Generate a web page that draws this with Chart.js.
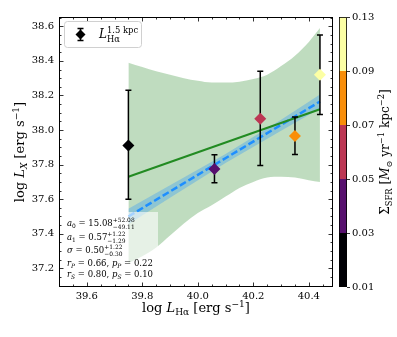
<!DOCTYPE html>
<html>
<head>
<meta charset="utf-8">
<script src="https://cdn.jsdelivr.net/npm/chart.js@4.4.0/dist/chart.umd.min.js"></script>
<style>
  html, body { margin: 0; padding: 0; background: #fff; }
  #wrap { position: relative; width: 397px; height: 337px; }
</style>
</head>
<body>
<div id="wrap"><canvas id="lxChart" width="397" height="337"></canvas></div>
<script>
// ticks
const xTicks = [39.6, 39.8, 40.0, 40.2, 40.4];
const yTicks = [37.2, 37.4, 37.6, 37.8, 38.0, 38.2, 38.4, 38.6];
const cbTicks = ['0.01', '0.03', '0.05', '0.07', '0.09', '0.13'];
const cbColors = ['#000004', '#57106e', '#bc3754', '#f98e09', '#fcffa4'];

// measured points (log L_Ha, log L_X) with asymmetric errors
const pointX = [39.75, 40.06, 40.225, 40.35, 40.44];
const pointY = [37.91, 37.775, 38.065, 37.965, 38.32];
const errLo = [37.60, 37.695, 37.795, 37.858, 38.09];
const errHi = [38.23, 37.857, 38.34, 38.075, 38.55];
const pointColors = ['#000004', '#57106e', '#bc3754', '#f98e09', '#fcffa4'];

// fits
const fitX = [39.75, 40.44];
const greenFitY = [37.73, 38.12];
const blueFitY = [37.50, 38.165];

// blue fit uncertainty band
const blueBandX = [39.75, 39.90, 40.10, 40.30, 40.44];
const blueBandHi = [37.545, 37.68, 37.862, 38.06, 38.205];
const blueBandLo = [37.455, 37.608, 37.81, 37.996, 38.125];

// green confidence region
const bandX = [39.75, 39.80, 39.85, 39.90, 39.95, 40.00, 40.05, 40.10, 40.15, 40.20, 40.25, 40.30, 40.35, 40.40, 40.44];
const bandHi = [38.39, 38.365, 38.34, 38.32, 38.30, 38.285, 38.275, 38.275, 38.28, 38.295, 38.32, 38.37, 38.43, 38.51, 38.59];
const bandLo = [37.23, 37.27, 37.32, 37.39, 37.46, 37.52, 37.565, 37.615, 37.665, 37.70, 37.725, 37.73, 37.725, 37.71, 37.70];

const SERIF = '"DejaVu Serif", serif';

function pts(xs, ys) {
    return xs.map((x, i) => ({ x: x, y: ys[i] }));
}

// small rich text helper (italic, sub/sup, stacked sup+sub)
function fontFor(r, size) {
    const s = (r.pos || r.stack) ? size * 0.7 : size;
    return (r.it ? 'italic ' : '') + s + 'px ' + SERIF;
}
function drawRich(ctx, runs, x, y, size, align) {
    ctx.save();
    ctx.textAlign = 'left';
    ctx.textBaseline = 'alphabetic';
    ctx.fillStyle = '#000';
    let w = 0;
    runs.forEach(r => {
        ctx.font = fontFor(r, size);
        if (r.stack) {
            r.w = Math.max(ctx.measureText(r.stack[0]).width, ctx.measureText(r.stack[1]).width);
        } else {
            r.w = ctx.measureText(r.t).width;
        }
        w += r.w;
    });
    let cx = align === 'center' ? x - w / 2 : x;
    runs.forEach(r => {
        ctx.font = fontFor(r, size);
        if (r.stack) {
            ctx.fillText(r.stack[0], cx, y - size * 0.42);
            ctx.fillText(r.stack[1], cx, y + size * 0.3);
        } else {
            const dy = r.pos === 'sub' ? size * 0.22 : (r.pos === 'sup' ? -size * 0.42 : 0);
            ctx.fillText(r.t, cx, y + dy);
        }
        cx += r.w;
    });
    ctx.restore();
}

const statLines = [
    [{ t: 'a', it: true }, { t: '0', pos: 'sub' }, { t: ' = 15.08' }, { stack: ['+52.08', '\u221249.11'] }],
    [{ t: 'a', it: true }, { t: '1', pos: 'sub' }, { t: ' = 0.57' }, { stack: ['+1.22', '\u22121.29'] }],
    [{ t: '\u03c3', it: true }, { t: ' = 0.50' }, { stack: ['+1.22', '\u22120.30'] }],
    [{ t: 'r', it: true }, { t: 'P', it: true, pos: 'sub' }, { t: ' = 0.66, ' }, { t: 'p', it: true }, { t: 'P', it: true, pos: 'sub' }, { t: ' = 0.22' }],
    [{ t: 'r', it: true }, { t: 'S', it: true, pos: 'sub' }, { t: ' = 0.80, ' }, { t: 'p', it: true }, { t: 'S', it: true, pos: 'sub' }, { t: ' = 0.10' }]
];
const statBaselines = [226, 240, 253, 266, 277];

function drawTicks(ctx, area, scale, horizontal, values, len) {
    values.forEach(v => {
        const p = Math.round(scale.getPixelForValue(v)) + 0.5;
        ctx.beginPath();
        if (horizontal) {
            if (p < area.left || p > area.right) return;
            ctx.moveTo(p, area.bottom); ctx.lineTo(p, area.bottom - len);
            ctx.moveTo(p, area.top); ctx.lineTo(p, area.top + len);
        } else {
            if (p < area.top || p > area.bottom) return;
            ctx.moveTo(area.left, p); ctx.lineTo(area.left + len, p);
            ctx.moveTo(area.right, p); ctx.lineTo(area.right - len, p);
        }
        ctx.stroke();
    });
}

const decorPlugin = {
    id: 'decor',
    afterDatasetDraw(chart, args) {
        if (chart.data.datasets[args.index].label !== 'greenFit') return;
        const ctx = chart.ctx, xs = chart.scales.x, ys = chart.scales.y;
        ctx.save();
        ctx.strokeStyle = '#000';
        ctx.lineWidth = 1.5;
        pointX.forEach((x, i) => {
            const px = xs.getPixelForValue(x);
            const top = ys.getPixelForValue(errHi[i]);
            const bot = ys.getPixelForValue(errLo[i]);
            ctx.beginPath();
            ctx.moveTo(px, top); ctx.lineTo(px, bot);
            ctx.moveTo(px - 3, top); ctx.lineTo(px + 3, top);
            ctx.moveTo(px - 3, bot); ctx.lineTo(px + 3, bot);
            ctx.stroke();
        });
        ctx.restore();
    },
    afterDatasetsDraw(chart) {
        const ctx = chart.ctx, a = chart.chartArea;
        const xs = chart.scales.x, ys = chart.scales.y, cb = chart.scales.cb;

        // stats box
        ctx.save();
        ctx.fillStyle = 'rgba(255,255,255,0.6)';
        ctx.fillRect(a.left + 3, 212, 96, 72);
        ctx.restore();
        statLines.forEach((runs, i) => drawRich(ctx, runs, 67, statBaselines[i], 8.5, 'left'));

        // frame + inward ticks
        ctx.save();
        ctx.strokeStyle = '#000';
        ctx.lineWidth = 1;
        ctx.strokeRect(a.left + 0.5, a.top + 0.5, a.right - a.left - 1, a.bottom - a.top - 1);
        ctx.lineWidth = 0.8;
        const minorX = [], minorY = [];
        for (let k = 0; k < 21; k++) minorX.push(39.5 + k * 0.05);
        for (let k = 0; k < 33; k++) minorY.push(37.05 + k * 0.05);
        drawTicks(ctx, a, xs, true, xTicks, 4.5);
        drawTicks(ctx, a, ys, false, yTicks, 4.5);
        drawTicks(ctx, a, xs, true, minorX.filter(v => !xTicks.some(t => Math.abs(t - v) < 1e-6)), 2.5);
        drawTicks(ctx, a, ys, false, minorY.filter(v => !yTicks.some(t => Math.abs(t - v) < 1e-6)), 2.5);

        // colour bar
        const cbL = a.right + 6, cbW = 8;
        cbColors.forEach((c, i) => {
            const y0 = cb.getPixelForValue(i + 1), y1 = cb.getPixelForValue(i);
            ctx.fillStyle = c;
            ctx.fillRect(cbL, y0, cbW, y1 - y0);
        });
        ctx.strokeStyle = '#000';
        ctx.lineWidth = 0.8;
        ctx.strokeRect(cbL + 0.5, a.top + 0.5, cbW - 1, a.bottom - a.top - 1);
        cbTicks.forEach((t, i) => {
            const p = Math.round(cb.getPixelForValue(i)) + 0.5;
            ctx.beginPath();
            ctx.moveTo(cbL + cbW, p); ctx.lineTo(cbL + cbW + 3, p);
            ctx.stroke();
        });
        ctx.restore();
    },
    afterDraw(chart) {
        const ctx = chart.ctx, a = chart.chartArea;
        const midX = (a.left + a.right) / 2, midY = (a.top + a.bottom) / 2;

        // x title
        drawRich(ctx, [{ t: 'log ' }, { t: 'L', it: true }, { t: 'H\u03b1', pos: 'sub' }, { t: ' [erg s' }, { t: '\u22121', pos: 'sup' }, { t: ']' }], midX, 312, 13, 'center');

        // y title
        ctx.save();
        ctx.translate(24, midY);
        ctx.rotate(-Math.PI / 2);
        drawRich(ctx, [{ t: 'log ' }, { t: 'L', it: true }, { t: 'X', it: true, pos: 'sub' }, { t: ' [erg s' }, { t: '\u22121', pos: 'sup' }, { t: ']' }], 0, 0, 13, 'center');
        ctx.restore();

        // colour bar title
        ctx.save();
        ctx.translate(389, midY);
        ctx.rotate(-Math.PI / 2);
        drawRich(ctx, [{ t: '\u03a3' }, { t: 'SFR', pos: 'sub' }, { t: ' [' }, { t: 'M', it: true }, { t: '\u2299', pos: 'sub' }, { t: ' yr' }, { t: '\u22121', pos: 'sup' }, { t: ' kpc' }, { t: '\u22122', pos: 'sup' }, { t: ']' }], 0, 0, 12, 'center');
        ctx.restore();

        // legend
        ctx.save();
        ctx.fillStyle = 'rgba(255,255,255,0.85)';
        ctx.strokeStyle = '#d0d0d0';
        ctx.lineWidth = 1;
        ctx.beginPath();
        ctx.roundRect(64.5, 21.5, 77, 26, 3);
        ctx.fill();
        ctx.stroke();
        ctx.strokeStyle = '#000';
        ctx.lineWidth = 1.5;
        ctx.beginPath();
        ctx.moveTo(80.5, 28.5); ctx.lineTo(80.5, 40.5);
        ctx.moveTo(77.5, 28.5); ctx.lineTo(83.5, 28.5);
        ctx.moveTo(77.5, 40.5); ctx.lineTo(83.5, 40.5);
        ctx.stroke();
        ctx.fillStyle = '#000';
        ctx.beginPath();
        ctx.moveTo(80.5, 29.5); ctx.lineTo(85.5, 34.5); ctx.lineTo(80.5, 39.5); ctx.lineTo(75.5, 34.5);
        ctx.closePath();
        ctx.fill();
        ctx.restore();
        drawRich(ctx, [{ t: 'L', it: true }, { stack: ['1.5 kpc', 'H\u03b1'] }], 99, 38, 12, 'left');
    }
};

const tickFont = { family: SERIF, size: 10 };

new Chart(document.getElementById('lxChart'), {
    type: 'scatter',
    data: {
        datasets: [
            {
                label: 'points',
                data: pts(pointX, pointY),
                pointStyle: 'rectRot',
                pointRadius: 6,
                pointHoverRadius: 6,
                backgroundColor: pointColors,
                borderColor: pointColors,
                borderWidth: 0,
                order: 0
            },
            {
                label: 'greenFit',
                data: pts(fitX, greenFitY),
                showLine: true,
                borderColor: '#228b22',
                borderWidth: 2,
                pointRadius: 0,
                order: 1
            },
            {
                label: 'blueFit',
                data: pts(fitX, blueFitY),
                showLine: true,
                borderColor: '#1e8fff',
                borderWidth: 2.5,
                borderDash: [7, 3],
                pointRadius: 0,
                order: 2
            },
            {
                label: 'blueHi',
                data: pts(blueBandX, blueBandHi),
                showLine: true,
                borderWidth: 0,
                borderColor: 'rgba(0,0,0,0)',
                pointRadius: 0,
                fill: '+1',
                backgroundColor: 'rgba(30,144,255,0.3)',
                order: 3
            },
            {
                label: 'blueLo',
                data: pts(blueBandX, blueBandLo),
                showLine: true,
                borderWidth: 0,
                borderColor: 'rgba(0,0,0,0)',
                pointRadius: 0,
                fill: false,
                order: 4
            },
            {
                label: 'bandHi',
                data: pts(bandX, bandHi),
                showLine: true,
                borderWidth: 0,
                borderColor: 'rgba(0,0,0,0)',
                pointRadius: 0,
                cubicInterpolationMode: 'monotone',
                fill: '+1',
                backgroundColor: 'rgba(60,150,60,0.33)',
                order: 5
            },
            {
                label: 'bandLo',
                data: pts(bandX, bandLo),
                showLine: true,
                borderWidth: 0,
                borderColor: 'rgba(0,0,0,0)',
                pointRadius: 0,
                cubicInterpolationMode: 'monotone',
                fill: false,
                order: 6
            }
        ]
    },
    options: {
        responsive: false,
        animation: false,
        devicePixelRatio: 1,
        layout: { padding: { left: 0, right: 0, top: 17, bottom: 0 } },
        plugins: {
            legend: { display: false },
            tooltip: { enabled: false }
        },
        scales: {
            x: {
                type: 'linear',
                min: 39.5,
                max: 40.487,
                afterBuildTicks: s => { s.ticks = xTicks.map(v => ({ value: v })); },
                afterFit: s => { s.height = 50; },
                grid: { display: false, drawTicks: false },
                border: { display: false },
                ticks: {
                    callback: v => v.toFixed(1),
                    font: tickFont,
                    color: '#000',
                    padding: 3,
                    maxRotation: 0,
                    autoSkip: false
                }
            },
            y: {
                type: 'linear',
                min: 37.092,
                max: 38.654,
                afterBuildTicks: s => { s.ticks = yTicks.map(v => ({ value: v })); },
                afterFit: s => { s.width = 59; },
                grid: { display: false, drawTicks: false },
                border: { display: false },
                ticks: {
                    callback: v => v.toFixed(1),
                    font: tickFont,
                    color: '#000',
                    padding: 5,
                    autoSkip: false
                }
            },
            cb: {
                type: 'linear',
                position: 'right',
                min: 0,
                max: 5,
                afterBuildTicks: s => { s.ticks = cbTicks.map((t, i) => ({ value: i })); },
                afterFit: s => { s.width = 64; },
                // tick marks hidden, their length only offsets the labels
                grid: { display: false, drawTicks: true, tickLength: 18 },
                border: { display: false },
                ticks: {
                    callback: v => cbTicks[v],
                    font: tickFont,
                    color: '#000',
                    padding: 1,
                    autoSkip: false
                }
            }
        }
    },
    plugins: [decorPlugin]
});
</script>
</body>
</html>
